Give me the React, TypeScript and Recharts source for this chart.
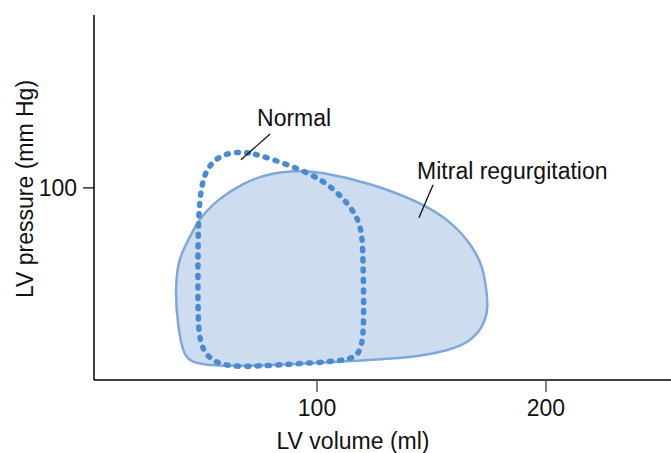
import { ComposedChart, ReferenceDot, Scatter, XAxis, YAxis } from "recharts";

const FONT = '"Liberation Sans", Arial, Helvetica, sans-serif';
const FILL = "#cddcef";
const EDGE = "#7fa8da";
const DOTS = "#4a8bcf";
const INK = "#111";
const FS = 23;

type Pt = { x: number; y: number };

// mitral regurgitation loop, clockwise from the top
const mitralLoop: Pt[] = [
  { x: 92.6, y: 108.9 },
  { x: 101.3, y: 108.3 },
  { x: 123.1, y: 102.6 },
  { x: 145.0, y: 92.7 },
  { x: 159.4, y: 81.8 },
  { x: 168.1, y: 69.3 },
  { x: 172.5, y: 58.9 },
  { x: 174.2, y: 45.3 },
  { x: 174.7, y: 36.5 },
  { x: 172.5, y: 27.6 },
  { x: 166.8, y: 19.8 },
  { x: 156.8, y: 15.1 },
  { x: 145.0, y: 12.5 },
  { x: 130.6, y: 10.9 },
  { x: 115.7, y: 9.9 },
  { x: 101.3, y: 8.9 },
  { x: 75.1, y: 7.3 },
  { x: 53.3, y: 7.3 },
  { x: 44.5, y: 9.4 },
  { x: 41.5, y: 14.1 },
  { x: 39.3, y: 27.6 },
  { x: 38.0, y: 45.3 },
  { x: 39.3, y: 62.5 },
  { x: 43.2, y: 71.4 },
  { x: 48.0, y: 83.3 },
  { x: 56.3, y: 93.8 },
  { x: 67.7, y: 102.6 },
  { x: 79.5, y: 107.8 },
];

// normal loop, clockwise from the peak
const normalLoop: Pt[] = [
  { x: 65.1, y: 118.8 },
  { x: 72.1, y: 118.2 },
  { x: 85.2, y: 113.0 },
  { x: 98.3, y: 106.8 },
  { x: 107.0, y: 100.0 },
  { x: 115.3, y: 89.6 },
  { x: 119.7, y: 79.2 },
  { x: 120.1, y: 62.5 },
  { x: 120.5, y: 36.5 },
  { x: 120.1, y: 19.8 },
  { x: 117.9, y: 12.5 },
  { x: 111.8, y: 9.9 },
  { x: 89.5, y: 8.3 },
  { x: 75.1, y: 7.3 },
  { x: 62.0, y: 6.8 },
  { x: 54.1, y: 9.9 },
  { x: 50.2, y: 15.6 },
  { x: 48.0, y: 24.5 },
  { x: 48.0, y: 52.1 },
  { x: 48.0, y: 78.1 },
  { x: 48.9, y: 96.4 },
  { x: 50.7, y: 106.8 },
  { x: 54.1, y: 113.5 },
  { x: 58.9, y: 117.2 },
];

const xTicks = [100, 200];
const yTicks = [100];

const noteText = [
  { text: "Normal", x: 73.8, y: 136.5 },
  { text: "Mitral regurgitation", x: 143.7, y: 108.9 },
];

const normalLeader: Pt[] = [
  { x: 66.8, y: 114.6 },
  { x: 79.5, y: 128.1 },
];
const mitralLeader: Pt[] = [
  { x: 144.5, y: 84.4 },
  { x: 150.7, y: 101.6 },
];

const NoDot = () => <g />;

const XTitle = (props: any) => {
  const vb = props.viewBox;
  return (
    <text x={vb.x + 259} y={vb.y + 69} textAnchor="middle" fontSize={FS} fill={INK}>
      LV volume (ml)
    </text>
  );
};

const YTitle = () => (
  <text
    x={33}
    y={189}
    transform="rotate(-90 33 189)"
    textAnchor="middle"
    fontSize={FS}
    fill={INK}
  >
    LV pressure (mm Hg)
  </text>
);

const leaderLine = { stroke: INK, strokeWidth: 1.3, fill: "none" };

export default function App() {
  return (
    <div
      style={{
        position: "absolute",
        left: 0,
        top: 0,
        width: 671,
        height: 453,
        background: "#fff",
        fontFamily: FONT,
      }}
    >
      <ComposedChart
        width={671}
        height={453}
        margin={{ top: 15, right: 0, bottom: 0, left: 0 }}
      >
        <XAxis
          type="number"
          dataKey="x"
          domain={[2.6, 254.6]}
          allowDataOverflow
          ticks={xTicks}
          height={73}
          tickSize={12}
          tickMargin={8}
          axisLine={{ stroke: "#000", strokeWidth: 1.5 }}
          tickLine={{ stroke: "#555", strokeWidth: 1.5 }}
          tick={{ fontSize: FS, fill: INK }}
          label={XTitle}
        />
        <YAxis
          type="number"
          dataKey="y"
          domain={[0, 190]}
          allowDataOverflow
          ticks={yTicks}
          width={94}
          tickSize={11}
          tickMargin={6}
          axisLine={{ stroke: "#000", strokeWidth: 1.5 }}
          tickLine={{ stroke: "#000", strokeWidth: 1.2 }}
          tick={{ fontSize: FS, fill: INK }}
          label={YTitle}
        />
        <Scatter
          data={mitralLoop}
          isAnimationActive={false}
          shape={NoDot}
          line={{ stroke: EDGE, strokeWidth: 2.5, fill: FILL }}
          lineType="joint"
          lineJointType="basisClosed"
        />
        <Scatter
          data={normalLoop}
          isAnimationActive={false}
          shape={NoDot}
          line={{
            stroke: DOTS,
            strokeWidth: 5.5,
            strokeDasharray: "2 8.3",
            strokeLinecap: "round",
            fill: "none",
          }}
          lineType="joint"
          lineJointType="basisClosed"
        />
        <Scatter
          data={normalLeader}
          isAnimationActive={false}
          shape={NoDot}
          line={leaderLine}
          lineType="joint"
        />
        <Scatter
          data={mitralLeader}
          isAnimationActive={false}
          shape={NoDot}
          line={leaderLine}
          lineType="joint"
        />
        {noteText.map((n) => (
          <ReferenceDot
            key={n.text}
            x={n.x}
            y={n.y}
            r={0}
            fill="none"
            stroke="none"
            label={{
              value: n.text,
              position: "right",
              offset: 0,
              fontSize: FS,
              fill: INK,
            }}
          />
        ))}
      </ComposedChart>
    </div>
  );
}
